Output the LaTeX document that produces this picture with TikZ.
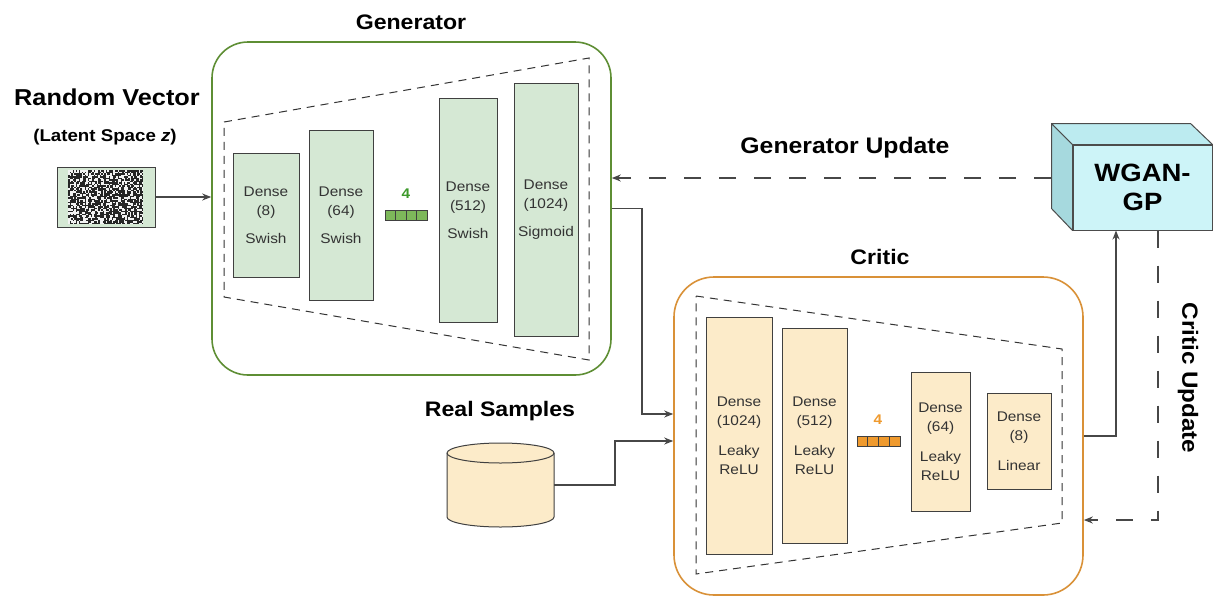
\documentclass[tikz,border=0pt]{standalone}
\usepackage{fontspec}
\setmainfont[FakeStretch=1.1]{Liberation Sans}
\usetikzlibrary{arrows.meta,positioning}

\definecolor{genline}{HTML}{5E8E34}
\definecolor{genfill}{HTML}{D5E8D4}
\definecolor{genvec}{HTML}{7DB85A}
\definecolor{genfour}{HTML}{3E9A2C}
\definecolor{critline}{HTML}{D99138}
\definecolor{critfill}{HTML}{FCEBC9}
\definecolor{critvec}{HTML}{EF9A2E}
\definecolor{wganfront}{HTML}{CDF4F8}
\definecolor{wgantop}{HTML}{BCEBF0}
\definecolor{wganside}{HTML}{A6D9DE}

\begin{document}
\begin{tikzpicture}[x=1pt, y=-1pt, >={Stealth[length=9pt,width=7pt]},
    title/.style={font=\fontsize{21}{25}\selectfont\bfseries},
    net/.style={draw, line width=1.6pt, rounded corners=36pt, fill=white, inner sep=0pt},
    funnel/.style={draw=black!80, dash pattern=on 8pt off 6pt, line width=1pt},
    layer/.style={draw=black!75, line width=1pt, inner sep=0pt, align=center, text=black!80, font=\fontsize{14}{19.5}\selectfont},
    glayer/.style={layer, fill=genfill},
    clayer/.style={layer, fill=critfill},
    cell/.style={draw=black!75, line width=0.8pt},
    flow/.style={->, draw=black!72, line width=1.7pt},
    update/.style={->, draw=black!72, line width=1.7pt, dash pattern=on 17pt off 18pt},
    drum/.style={draw=black!75, fill=critfill, line width=1pt},
  ]
  \fill[white] (0,0) rectangle (1215,598);
  \useasboundingbox (0,0) rectangle (1215,598);

  % random input
  \node[title, font=\fontsize{23}{27}\selectfont\bfseries] (rvlabel) at (107,97) {Random Vector};
  \node[font=\fontsize{17}{20}\selectfont\bfseries] (latent) at (105,137) {(Latent Space \textit{z})};
  \node[draw=black!75, fill=genfill, line width=1pt, minimum width=98pt, minimum height=60pt, inner sep=0pt] (noise) at (106,197) {};
  \pgfmathsetseed{42}
  \foreach \i in {0,...,49}
    \foreach \j in {0,...,35} {
      \pgfmathsetmacro\g{rnd>0.4 ? 85 : 5}
      \fill[black!\g] (68+1.5*\i,170+1.5*\j) rectangle ++(1.5,1.5);
    }

  % generator
  \node[title] (gentitle) at (411,22) {Generator};
  \node[net, draw=genline, minimum width=399pt, minimum height=333pt] (gen) at (411.5,208.5) {};
  \draw[funnel] (224,122) -- (589,58) -- (589,360) -- (224,297) -- cycle;
  \node[glayer, minimum width=66pt, minimum height=124pt] (g1) at (266,215) {Dense\\(8)\\[8.5pt]Swish};
  \node[glayer, minimum width=64pt, minimum height=170pt] (g2) at (341,215) {Dense\\(64)\\[8.5pt]Swish};
  \node[glayer, minimum width=58pt, minimum height=224pt] (g3) at (468,210) {Dense\\(512)\\[8.5pt]Swish};
  \node[glayer, minimum width=64pt, minimum height=253pt] (g4) at (546,209.5) {Dense\\(1024)\\[8.5pt]Sigmoid};
  \foreach \k in {0,...,3}
    \draw[cell, fill=genvec] (385+10.5*\k,210) rectangle ++(10.5,10);
  \node[text=genfour, font=\fontsize{14}{16}\selectfont\bfseries] (gsize) at (406,194) {4};

  % critic
  \node[title] (crittitle) at (880,257) {Critic};
  \node[net, draw=critline, rounded corners=40pt, minimum width=409pt, minimum height=318pt] (crit) at (878.5,436) {};
  \draw[funnel] (696,296) -- (1062,349) -- (1062,523) -- (696,574) -- cycle;
  \node[clayer, minimum width=66pt, minimum height=237pt] (c1) at (739,435.5) {Dense\\(1024)\\[10pt]Leaky\\ReLU};
  \node[clayer, minimum width=65pt, minimum height=215pt] (c2) at (814.5,435.5) {Dense\\(512)\\[10pt]Leaky\\ReLU};
  \node[clayer, minimum width=59pt, minimum height=139pt] (c3) at (940.5,441.5) {Dense\\(64)\\[10pt]Leaky\\ReLU};
  \node[clayer, minimum width=64pt, minimum height=96pt] (c4) at (1019,441) {Dense\\(8)\\[10pt]Linear};
  \foreach \k in {0,...,3}
    \draw[cell, fill=critvec] (857+10.75*\k,436) rectangle ++(10.75,10);
  \node[text=critvec, font=\fontsize{14}{16}\selectfont\bfseries] (csize) at (878,420) {4};

  % real data
  \node[title] (reallabel) at (500,411) {Real Samples};
  \node[minimum width=107pt, minimum height=84pt, inner sep=0pt, outer sep=0pt] (db) at (500.5,485) {};
  \draw[drum] ([yshift=-10pt]db.north west) -- ([yshift=10pt]db.south west)
    arc[start angle=180, end angle=360, x radius=53.5pt, y radius=10pt]
    -- ([yshift=-10pt]db.north east)
    arc[start angle=0, end angle=180, x radius=53.5pt, y radius=10pt] -- cycle;
  \draw[drum, fill=none] ([yshift=-10pt]db.north west)
    arc[start angle=180, end angle=360, x radius=53.5pt, y radius=10pt];

  % loss block
  \node[draw=black!70, fill=wganfront, line width=1pt, minimum width=139pt, minimum height=85pt, inner sep=0pt,
        align=center, font=\fontsize{25}{29}\selectfont\bfseries] (wgan) at (1142.5,187.5) {WGAN-\\GP};
  \draw[draw=black!70, fill=wganside, line width=1pt, line join=round]
    (wgan.north west) -- ++(-21,-21) -- ++(0,85) -- (wgan.south west) -- cycle;
  \draw[draw=black!70, fill=wgantop, line width=1pt, line join=round]
    (wgan.north west) -- ++(-21,-21) -- ++(139,0) -- (wgan.north east) -- cycle;

  % connections
  \coordinate (genout) at (642,414);
  \coordinate (realout) at (615,441);
  \coordinate (critout) at (1116,437);
  \coordinate (gucorner) at (1051,178);
  \coordinate (cucorner) at (1158,520);

  \draw[flow] (noise.east) -- (noise.east -| gen.west);
  \draw[flow] (gen.east) -| (genout) -- (genout -| crit.west);
  \draw[flow] (db.east) -| (realout) -- (realout -| crit.west);
  \draw[flow] (crit.east) -| (critout |- wgan.south);
  \draw[update] (gucorner) -- (gucorner -| gen.east);
  \draw[update] (cucorner |- wgan.south) -- (cucorner) -- (cucorner -| crit.east);

  \node[font=\fontsize{22.5}{26}\selectfont\bfseries] (gulabel) at (845,148) {Generator Update};
  \node[font=\fontsize{22}{26}\selectfont\bfseries, rotate=-90] (culabel) at (1188,378) {Critic Update};
\end{tikzpicture}
\end{document}
